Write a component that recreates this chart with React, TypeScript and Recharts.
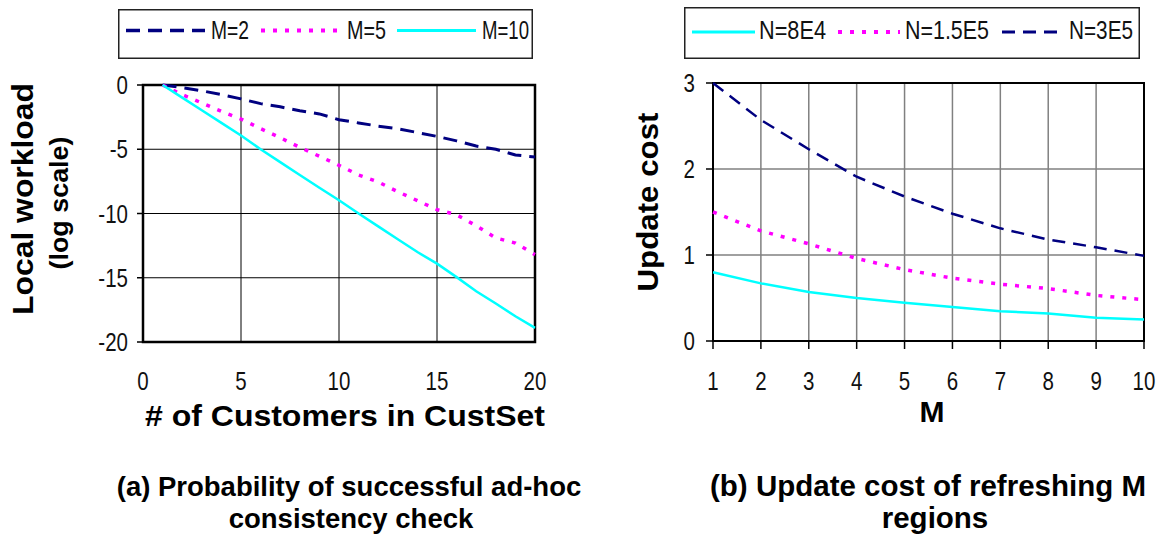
import React from "react";
import {
  LineChart,
  Line,
  XAxis,
  YAxis,
  CartesianGrid,
  ReferenceArea,
  Legend,
  Label,
} from "recharts";

const SANS = "'Liberation Sans', Arial, Helvetica, sans-serif";

const NAVY = "#000080";
const MAGENTA = "#ff00ff";
const CYAN = "#00ffff";

// (a) local workload (log scale) against CustSet size
const custCounts = [1, 2, 3, 4, 5, 6, 7, 8, 9, 10, 11, 12, 13, 14, 15, 16, 17, 18, 19, 20];
const workloadM2 = [0, -0.2, -0.45, -0.75, -1.08, -1.45, -1.7, -2.0, -2.25, -2.7, -2.95, -3.2, -3.4, -3.7, -4.0, -4.35, -4.75, -5.0, -5.45, -5.6];
const workloadM5 = [0, -0.75, -1.4, -2.05, -2.65, -3.4, -4.1, -4.85, -5.55, -6.25, -7.0, -7.55, -8.3, -9.0, -9.7, -10.1, -10.95, -11.9, -12.3, -13.2];
const workloadM10 = [0, -0.98, -1.97, -2.95, -3.93, -5.0, -6.0, -7.0, -8.0, -8.97, -10.0, -11.0, -12.0, -13.0, -13.9, -14.95, -16.05, -17.0, -18.0, -18.9];
const custTicks = [0, 5, 10, 15, 20];
const workloadTicks = [-20, -15, -10, -5, 0];

// (b) update cost against number of refreshed regions
const regionCounts = [1, 2, 3, 4, 5, 6, 7, 8, 9, 10];
const costN8E4 = [0.8, 0.67, 0.57, 0.5, 0.445, 0.395, 0.345, 0.32, 0.27, 0.25];
const costN15E5 = [1.5, 1.28, 1.13, 0.96, 0.83, 0.73, 0.66, 0.61, 0.53, 0.48];
const costN3E5 = [3.0, 2.57, 2.23, 1.91, 1.68, 1.48, 1.31, 1.18, 1.09, 0.99];
const costTicks = [0, 1, 2, 3];

const workloadData = custCounts.map((n, i) => ({
  n,
  m2: workloadM2[i],
  m5: workloadM5[i],
  m10: workloadM10[i],
}));

const costData = regionCounts.map((m, i) => ({
  m,
  n8e4: costN8E4[i],
  n15e5: costN15E5[i],
  n3e5: costN3E5[i],
}));

type Series = {
  key: string;
  name: string;
  color: string;
  width: number;
  dash?: string;
};

const workloadSeries: Series[] = [
  { key: "m2", name: "M=2", color: NAVY, width: 3, dash: "14 8" },
  { key: "m5", name: "M=5", color: MAGENTA, width: 3.5, dash: "4 8" },
  { key: "m10", name: "M=10", color: CYAN, width: 2.5 },
];

const costSeries: Series[] = [
  { key: "n8e4", name: "N=8E4", color: CYAN, width: 2.5 },
  { key: "n15e5", name: "N=1.5E5", color: MAGENTA, width: 3.5, dash: "4 8" },
  { key: "n3e5", name: "N=3E5", color: NAVY, width: 2.5, dash: "13 8" },
];

// Arial / Liberation Sans advance widths (em) for the glyphs used in ticks and legends
const ADVANCE: Record<string, number> = {
  "0": 0.556, "1": 0.556, "2": 0.556, "3": 0.556, "4": 0.556,
  "5": 0.556, "6": 0.556, "7": 0.556, "8": 0.556, "9": 0.556,
  "-": 0.333, "=": 0.584, ".": 0.278, M: 0.833, N: 0.722, E: 0.667,
};
const emWidth = (s: string) => s.split("").reduce((w, c) => w + (ADVANCE[c] ?? 0.556), 0);

// narrow face: regular glyphs squeezed horizontally
function NarrowText({
  x,
  y,
  text,
  size,
  anchor = "start",
  width,
}: {
  x: number;
  y: number;
  text: string;
  size: number;
  anchor?: "start" | "middle" | "end";
  width?: number;
}) {
  const sx = width ? width / (emWidth(text) * size) : 0.82;
  return (
    <text
      transform={`translate(${x}, ${y}) scale(${sx.toFixed(3)}, 1)`}
      textAnchor={anchor}
      fontFamily={SANS}
      fontSize={size}
      fill="#111"
    >
      {text}
    </text>
  );
}

// legend slot layout: sample start/end, text start and width
type Slot = { x1: number; x2: number; tx: number; tw: number };

const workloadSlots: Slot[] = [
  { x1: 8, x2: 87, tx: 93, tw: 38 },
  { x1: 143, x2: 219, tx: 229, tw: 39 },
  { x1: 279, x2: 358, tx: 364, tw: 47 },
];

const costSlots: Slot[] = [
  { x1: 8, x2: 71, tx: 75, tw: 67 },
  { x1: 154, x2: 216, tx: 221, tw: 84 },
  { x1: 318, x2: 380, tx: 385, tw: 64 },
];

function LegendBox({
  series,
  slots,
  width,
  height,
  lineY,
  textY,
}: {
  series: Series[];
  slots: Slot[];
  width: number;
  height: number;
  lineY: number;
  textY: number;
}) {
  return (
    <svg width={width} height={height} style={{ display: "block" }}>
      <rect x={0.75} y={0.75} width={width - 1.5} height={height - 1.5} fill="#fff" stroke="#222" strokeWidth={1.5} />
      {series.map((s, i) => (
        <g key={s.key}>
          <line
            x1={slots[i].x1}
            x2={slots[i].x2}
            y1={lineY}
            y2={lineY}
            stroke={s.color}
            strokeWidth={s.width + 0.5}
            strokeDasharray={s.dash}
          />
          <NarrowText x={slots[i].tx} y={textY} text={s.name} size={26} width={slots[i].tw} />
        </g>
      ))}
    </svg>
  );
}

const makeTick =
  (dy: number, anchor: "start" | "middle" | "end") =>
  (props: any) => {
    const { x, y, payload } = props;
    return <NarrowText x={x} y={y + dy} text={String(payload.value)} size={25} anchor={anchor} />;
  };

const rotatedTitle = (lines: { text: string; x: number; y: number; size: number; len: number }[]) =>
  () => (
    <g>
      {lines.map((l) => (
        <text
          key={l.text}
          x={l.x}
          y={l.y}
          transform={`rotate(-90, ${l.x}, ${l.y})`}
          textAnchor="middle"
          fontFamily={SANS}
          fontWeight="bold"
          fontSize={l.size}
          fill="#000"
          textLength={l.len}
          lengthAdjust="spacingAndGlyphs"
        >
          {l.text}
        </text>
      ))}
    </g>
  );

const flatTitle = (text: string, x: number, y: number, size: number, len?: number) => () => (
  <text
    x={x}
    y={y}
    textAnchor="middle"
    fontFamily={SANS}
    fontWeight="bold"
    fontSize={size}
    fill="#000"
    textLength={len}
    lengthAdjust={len ? "spacingAndGlyphs" : undefined}
  >
    {text}
  </text>
);

function WorkloadChart() {
  return (
    <LineChart
      width={580}
      height={534}
      data={workloadData}
      margin={{ top: 85, right: 45, bottom: 132, left: 0 }}
    >
      <CartesianGrid stroke="#000" strokeWidth={1} />
      <XAxis
        dataKey="n"
        type="number"
        domain={[0, 20]}
        ticks={custTicks}
        height={60}
        axisLine={false}
        tickLine={false}
        tickSize={0}
        tickMargin={0}
        tick={makeTick(48, "middle")}
        interval={0}
      >
        <Label content={flatTitle("# of Customers in CustSet", 345, 426, 30, 400)} />
      </XAxis>
      <YAxis
        type="number"
        domain={[-20, 0]}
        ticks={workloadTicks}
        width={143}
        axisLine={false}
        tickLine={{ stroke: "#000", strokeWidth: 1.5 }}
        tickSize={6}
        tickMargin={9}
        tick={makeTick(9, "end")}
        interval={0}
      >
        <Label
          content={rotatedTitle([
            { text: "Local workload", x: 33, y: 199, size: 29, len: 232 },
            { text: "(log scale)", x: 68, y: 203, size: 25, len: 133 },
          ])}
        />
      </YAxis>
      <ReferenceArea x1={0} x2={20} y1={-20} y2={0} fill="none" stroke="#000" strokeWidth={2.5} ifOverflow="visible" />
      <Legend
        layout="horizontal"
        verticalAlign="middle"
        align="center"
        wrapperStyle={{ top: 9, left: 118, width: 415, height: 50 }}
        content={() => (
          <LegendBox series={workloadSeries} slots={workloadSlots} width={415} height={50} lineY={21.5} textY={30} />
        )}
      />
      {workloadSeries.map((s) => (
        <Line
          key={s.key}
          type="linear"
          dataKey={s.key}
          name={s.name}
          stroke={s.color}
          strokeWidth={s.width}
          strokeDasharray={s.dash}
          dot={false}
          isAnimationActive={false}
        />
      ))}
    </LineChart>
  );
}

function CostChart() {
  return (
    <LineChart
      width={581}
      height={534}
      data={costData}
      margin={{ top: 83, right: 17, bottom: 133, left: 0 }}
    >
      <CartesianGrid stroke="#808080" strokeWidth={1.5} />
      <XAxis
        dataKey="m"
        type="number"
        domain={[1, 10]}
        ticks={regionCounts}
        height={60}
        axisLine={false}
        tickLine={{ stroke: "#000", strokeWidth: 1.5 }}
        tickSize={8}
        tickMargin={0}
        tick={makeTick(41, "middle")}
        interval={0}
      >
        <Label content={flatTitle("M", 352, 422, 30)} />
      </XAxis>
      <YAxis
        type="number"
        domain={[0, 3]}
        ticks={costTicks}
        width={133}
        axisLine={false}
        tickLine={{ stroke: "#000", strokeWidth: 1.5 }}
        tickSize={7}
        tickMargin={11}
        tick={makeTick(9, "end")}
        interval={0}
      >
        <Label content={rotatedTitle([{ text: "Update cost", x: 78, y: 202, size: 29, len: 179 }])} />
      </YAxis>
      <ReferenceArea x1={1} x2={10} y1={0} y2={3} fill="none" stroke="#000" strokeWidth={2} ifOverflow="visible" />
      <Legend
        layout="horizontal"
        verticalAlign="middle"
        align="center"
        wrapperStyle={{ top: 7, left: 104, width: 456, height: 52 }}
        content={() => (
          <LegendBox series={costSeries} slots={costSlots} width={456} height={52} lineY={25} textY={32} />
        )}
      />
      {costSeries.map((s) => (
        <Line
          key={s.key}
          type="linear"
          dataKey={s.key}
          name={s.name}
          stroke={s.color}
          strokeWidth={s.width}
          strokeDasharray={s.dash}
          dot={false}
          isAnimationActive={false}
        />
      ))}
    </LineChart>
  );
}

const captions = [
  { lines: ["(a) Probability of successful ad-hoc", "consistency check"], x: [349, 351], size: 27.5 },
  { lines: ["(b) Update cost of refreshing M", "regions"], x: [928, 935], size: 29.5 },
];

export default function App() {
  return (
    <div style={{ position: "absolute", left: 0, top: 0, width: 1161, height: 534, background: "#fff", overflow: "hidden" }}>
      <div style={{ position: "absolute", left: 0, top: 0 }}>
        <WorkloadChart />
      </div>
      <div style={{ position: "absolute", left: 580, top: 0 }}>
        <CostChart />
      </div>
      <svg width={1161} height={534} style={{ position: "absolute", left: 0, top: 0, pointerEvents: "none" }}>
        {captions.map((c) =>
          c.lines.map((line, i) => (
            <text
              key={line}
              x={c.x[i]}
              y={496 + i * 32}
              textAnchor="middle"
              fontFamily={SANS}
              fontWeight="bold"
              fontSize={c.size}
              fill="#000"
            >
              {line}
            </text>
          ))
        )}
      </svg>
    </div>
  );
}
